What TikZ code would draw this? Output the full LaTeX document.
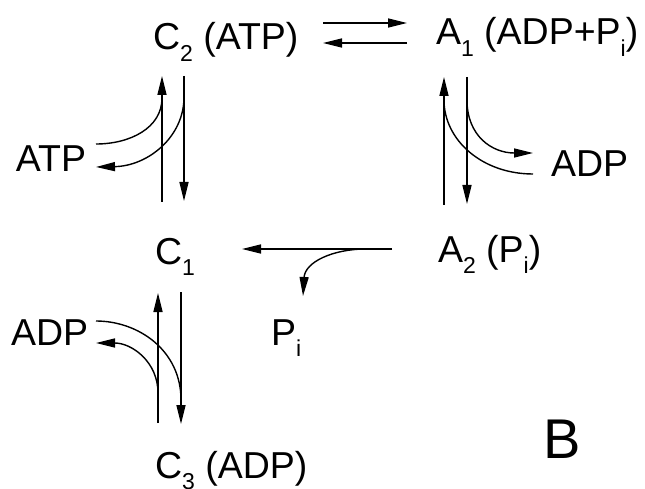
\documentclass[tikz,border=0pt]{standalone}
\usepackage{fontspec}
\setmainfont{Liberation Sans}
\usetikzlibrary{arrows.meta}
\newcommand\subsc[1]{\raisebox{-0.3em}{\fontsize{23}{23}\selectfont #1}}
\tikzset{
  lbl/.style={anchor=base west, inner sep=0pt, outer sep=0pt, font=\fontsize{37.5}{45}\selectfont},
  rx/.style={line width=1.4pt, -{Triangle[length=19pt,width=9pt]}},
  ln/.style={line width=1.4pt}
}
\begin{document}
\begin{tikzpicture}[x=1pt,y=-1pt]
\useasboundingbox (0,0) rectangle (645,489);
\fill[white] (0,0) rectangle (645,489);
% labels
\node[lbl] (c2) at (153,50) {C\subsc{2} (ATP)};
\node[lbl] (a1) at (436,45) {A\subsc{1} (ADP+P\subsc{i})};
\node[lbl] (c1) at (155,264) {C\subsc{1}};
\node[lbl] (a2) at (438,262) {A\subsc{2} (P\subsc{i})};
\node[lbl] (c3) at (155,478) {C\subsc{3} (ADP)};
\node[lbl] (atp) at (16,172) {ATP};
\node[lbl] (adpr) at (551,177) {ADP};
\node[lbl] (adpl) at (11,345) {ADP};
\node[lbl] (pi) at (271,345) {P\subsc{i}};
\node[lbl, font=\fontsize{56}{60}\selectfont] (lb) at (543,458) {B};
% coordinates
\coordinate (e1s) at (323,23); \coordinate (e1e) at (407,23);
\coordinate (e2s) at (407,43); \coordinate (e2e) at (323,43);
\coordinate (lu0) at (162,202); \coordinate (lu1) at (162,76); \coordinate (luj) at (162,98);
\coordinate (ld0) at (184,76); \coordinate (ld1) at (184,201); \coordinate (ldj) at (184,97);
\coordinate (atpin) at (96,144); \coordinate (atpout) at (96,167);
\coordinate (ru0) at (444,205); \coordinate (ru1) at (444,77); \coordinate (ruj) at (444,100);
\coordinate (rd0) at (467,77); \coordinate (rd1) at (467,204); \coordinate (rdj) at (467,100);
\coordinate (adprin) at (533,174); \coordinate (adprout) at (533,153);
\coordinate (h0) at (392,249); \coordinate (h1) at (242,249); \coordinate (hj) at (366,249);
\coordinate (piout) at (303,296);
\coordinate (bu0) at (158,423); \coordinate (bu1) at (158,293); \coordinate (buj) at (158,393);
\coordinate (bd0) at (181,292); \coordinate (bd1) at (181,424); \coordinate (bdj) at (181,400);
\coordinate (adplin) at (96,321); \coordinate (adplout) at (96,343);
% equilibrium C2 <-> A1
\draw[rx] (e1s) -- (e1e);
\draw[rx] (e2s) -- (e2e);
% C1 <-> C2
\draw[rx] (lu0) -- (lu1);
\draw[rx] (ld0) -- (ld1);
\draw[ln] (atpin) .. controls (130,144) and (162,128) .. (luj);
\draw[rx] (ldj) .. controls (184,137) and (148,166) .. (atpout);
% A1 <-> A2
\draw[rx] (ru0) -- (ru1);
\draw[rx] (rd0) -- (rd1);
\draw[ln] (adprin) .. controls (482,174) and (444,140) .. (ruj);
\draw[rx] (rdj) .. controls (467,136) and (492,153) .. (adprout);
% A2 -> C1
\draw[rx] (h0) -- (h1);
\draw[rx] (hj) .. controls (333,249) and (305,262) .. (piout);
% C1 <-> C3
\draw[rx] (bu0) -- (bu1);
\draw[rx] (bd0) -- (bd1);
\draw[ln] (adplin) .. controls (138,321) and (181,350) .. (bdj);
\draw[rx] (buj) .. controls (158,362) and (132,343) .. (adplout);
\end{tikzpicture}
\end{document}
